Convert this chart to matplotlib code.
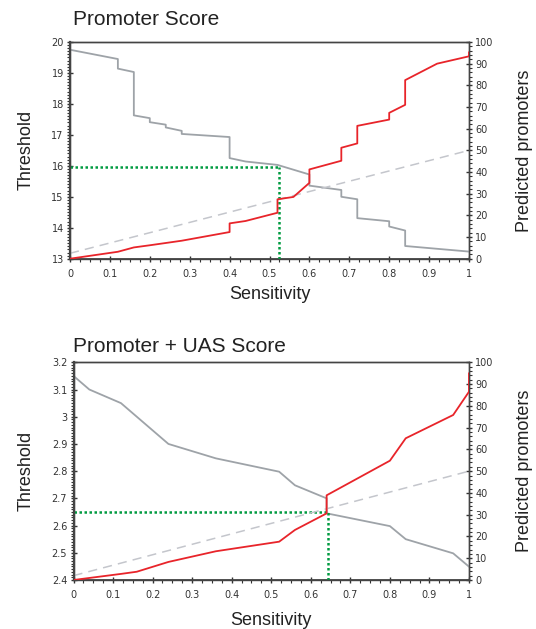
import matplotlib
matplotlib.use('Agg')
import matplotlib.pyplot as plt
from matplotlib.ticker import MultipleLocator

# --- Promoter Score ---
top_gray_s = [0, 0.12, 0.12, 0.16, 0.16, 0.20, 0.20, 0.24, 0.24, 0.28, 0.28, 0.40, 0.40, 0.44, 0.52,
              0.60, 0.60, 0.68, 0.68, 0.72, 0.72, 0.80, 0.80, 0.84, 0.84, 1.0]
top_gray_t = [19.75, 19.45, 19.14, 19.03, 17.63, 17.54, 17.41, 17.33, 17.24, 17.13, 17.03, 16.93, 16.25,
              16.14, 16.03, 15.72, 15.36, 15.22, 15.0, 14.92, 14.31, 14.21, 14.04, 13.91, 13.41, 13.23]
top_red_s = [0, 0.12, 0.16, 0.20, 0.28, 0.40, 0.40, 0.44, 0.52, 0.52, 0.56, 0.60, 0.60, 0.68, 0.68,
             0.72, 0.72, 0.80, 0.80, 0.84, 0.84, 0.92, 1.0, 1.0]
top_red_p = [0, 3.2, 5.2, 6.2, 8.3, 12.3, 16.3, 17.4, 21.2, 27.4, 28.5, 35.0, 41.2, 45.2, 51.2,
             53.2, 61.3, 64.2, 67.3, 71.0, 82.4, 90.0, 93.4, 95.2]
top_diag = [2.5, 50]
top_cut_s, top_cut_t = 0.525, 15.95

# --- Promoter + UAS Score ---
bot_gray_s = [0, 0.04, 0.12, 0.24, 0.36, 0.52, 0.56, 0.64, 0.64, 0.80, 0.84, 0.96, 1.0]
bot_gray_t = [3.15, 3.10, 3.05, 2.90, 2.847, 2.798, 2.748, 2.70, 2.645, 2.598, 2.55, 2.498, 2.449]
bot_red_s = [0, 0.12, 0.16, 0.24, 0.36, 0.52, 0.56, 0.64, 0.64, 0.80, 0.84, 0.96, 1.0, 1.0]
bot_red_p = [0, 2.8, 3.8, 8.3, 13.2, 17.6, 23.0, 30.6, 38.9, 54.8, 65.1, 75.8, 86.5, 94.9]
bot_diag = [2, 50]
bot_cut_s, bot_cut_t = 0.643, 2.65

GRAY = '#9ea3a8'
RED = '#e8242a'
GREEN = '#009a40'
DASH = '#c4c6cc'
TXT = '#333333'
LABEL_FONT = 'Liberation Sans'

fig = plt.figure(figsize=(5.36, 6.29), dpi=100)


def panel(rect, title, title_y, ylim, ymajor, yminor, gs, gt, rs, rp, diag, cut_s, cut_t, xpad):
    ax = fig.add_axes(rect)
    ax2 = ax.twinx()
    ax.plot(gs, gt, color=GRAY, lw=1.3, zorder=3)
    ax2.plot([0, 1], diag, color=DASH, lw=1.1, ls=(0, (6, 4)), zorder=2)
    ax2.plot(rs, rp, color=RED, lw=1.3, zorder=3)
    ax.plot([0, cut_s], [cut_t, cut_t], color=GREEN, lw=1.8, ls=(0, (1, 1)), zorder=4)
    ax.plot([cut_s, cut_s], [ylim[0], cut_t], color=GREEN, lw=1.8, ls=(0, (1, 1)), zorder=4)

    ax.set_xlim(0, 1)
    ax.set_ylim(*ylim)
    ax2.set_ylim(0, 100)
    ax.xaxis.set_major_locator(MultipleLocator(0.1))
    ax.xaxis.set_minor_locator(MultipleLocator(0.025))
    ax.yaxis.set_major_locator(MultipleLocator(ymajor))
    ax.yaxis.set_minor_locator(MultipleLocator(yminor))
    ax2.yaxis.set_major_locator(MultipleLocator(10))
    ax2.yaxis.set_minor_locator(MultipleLocator(2))
    ax.xaxis.set_major_formatter(plt.FuncFormatter(lambda v, p: '%g' % round(v, 2)))
    ax.yaxis.set_major_formatter(plt.FuncFormatter(lambda v, p: '%g' % round(v, 2)))

    for a in (ax, ax2):
        a.tick_params(which='major', direction='inout', length=5, width=1, colors=TXT,
                      labelsize=7, pad=2)
        a.tick_params(which='minor', direction='out', length=2.5, width=0.8, colors=TXT)
        for sp in a.spines.values():
            sp.set_color('#444444')
            sp.set_linewidth(1.0)
    ax.tick_params(axis='x', which='major', pad=5)
    ax.spines['left'].set_linewidth(1.6)
    ax.spines['bottom'].set_linewidth(1.3)

    ax.set_xlabel('Sensitivity', fontsize=13, family=LABEL_FONT, color='#222222', labelpad=xpad)
    ax.set_ylabel('Threshold', fontsize=13, family=LABEL_FONT, color='#222222', labelpad=12)
    ax2.set_ylabel('Predicted promoters', fontsize=13, family=LABEL_FONT, color='#222222',
                   labelpad=16)
    fig.text(73 / 536, 1 - title_y / 629, title, fontsize=15, family=LABEL_FONT,
             color='#222222', va='baseline', ha='left')
    return ax, ax2


panel([70 / 536, 1 - 258.7 / 629, 399 / 536, 216.7 / 629], 'Promoter Score', 25,
      (13, 20), 1, 0.1, top_gray_s, top_gray_t, top_red_s, top_red_p, top_diag,
      top_cut_s, top_cut_t, 5)
panel([73.5 / 536, 1 - 580 / 629, 395.5 / 536, 217.7 / 629], 'Promoter + UAS Score', 352,
      (2.4, 3.2), 0.1, 0.01, bot_gray_s, bot_gray_t, bot_red_s, bot_red_p, bot_diag,
      bot_cut_s, bot_cut_t, 8)

fig.savefig('out.png', dpi=100)
